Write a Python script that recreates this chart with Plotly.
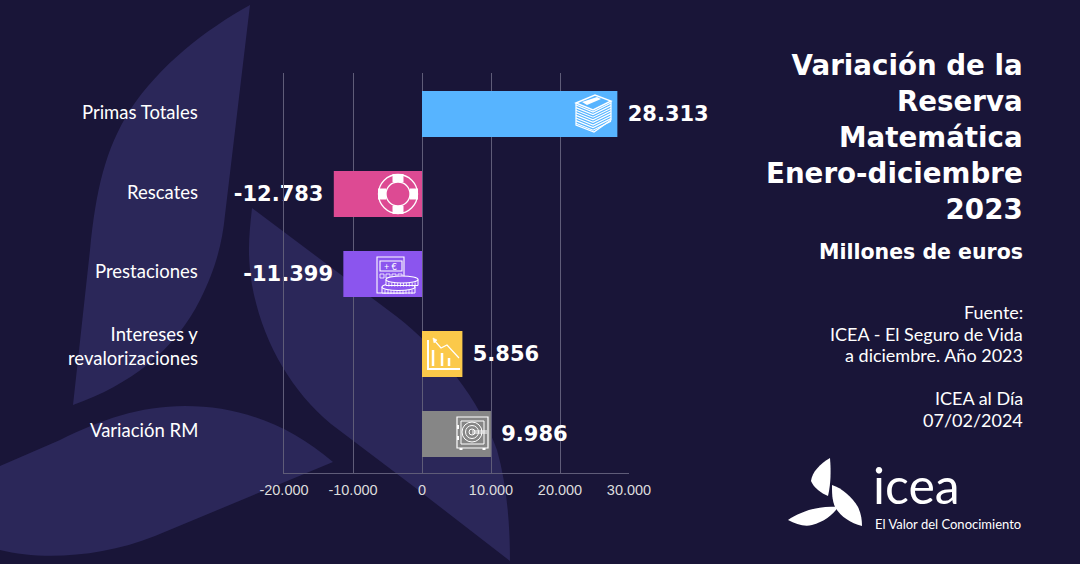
#!/usr/bin/env python3
import re
import plotly.graph_objects as go

categories = ['Primas Totales', 'Rescates', 'Prestaciones', 'Intereses y<br>revalorizaciones', 'Variación RM']
values = [28313, -12783, -11399, 5856, 9986]
value_labels = ['28.313', '-12.783', '-11.399', '5.856', '9.986']
bar_colors = ['#57b4ff', '#dd4a93', '#8b55ee', '#fbc94a', '#868686']
tick_vals = [-20000, -10000, 0, 10000, 20000, 30000]
tick_labels = ['-20.000', '-10.000', '0', '10.000', '20.000', '30.000']

title_lines = ['Variación de la', 'Reserva', 'Matemática', 'Enero-diciembre', '2023']
subtitle = 'Millones de euros'
source_lines = ['Fuente:', 'ICEA - El Seguro de Vida', 'a diciembre. Año 2023', '', 'ICEA al Día', '07/02/2024']

BG = '#191538'
LEAF = '#2b2759'
BOLD = 'DejaVu Sans'

# plot area in page pixels
L, R, T, B = 284, 629, 73, 473
W, H = 1080, 564


def px(x, y):
	return (x - L) / (R - L), (B - y) / (B - T)


def to_paper(path):
	# svg path written in page pixels -> paper coordinates
	def conv(m):
		x, y = px(float(m.group(1)), float(m.group(2)))
		return '%.5f,%.5f' % (x, y)
	return re.sub(r'(-?[\d.]+),(-?[\d.]+)', conv, path)


shapes = []


def add_path(path, fill=None, line='white', width=1.0, layer='above'):
	shapes.append(dict(type='path', path=to_paper(path), xref='paper', yref='paper', layer=layer,
		fillcolor=fill if fill else 'rgba(0,0,0,0)',
		line=dict(color=line if line else 'rgba(0,0,0,0)', width=width)))


def add_circle(cx, cy, rx, ry=None, fill=None, line='white', width=1.0):
	ry = ry if ry else rx
	x0, y0 = px(cx - rx, cy + ry)
	x1, y1 = px(cx + rx, cy - ry)
	shapes.append(dict(type='circle', xref='paper', yref='paper', x0=x0, y0=y0, x1=x1, y1=y1, layer='above',
		fillcolor=fill if fill else 'rgba(0,0,0,0)', line=dict(color=line, width=width)))


# background leaves
add_path('M250,5 C205,30 160,65 130,110 C105,150 96,190 90,250 L73,405 C130,385 175,350 200,300 C215,270 222,245 225,215 Z',
	fill=LEAF, line=None, layer='below')
add_path('M252,208 L396,316 C440,350 480,400 497,450 C507,485 510,525 510,561 L413,486 L331,424 C290,390 262,340 252,285 C247,255 249,235 252,208 Z',
	fill=LEAF, line=None, layer='below')
add_path('M333,462 C290,425 240,406 185,406 C140,406 100,420 60,440 L0,466 L0,550 C40,560 100,558 155,536 Z',
	fill=LEAF, line=None, layer='below')

# banknotes icon
add_path('M576,103 L595,95 L611,101 L593,110 Z', width=1.4)
for i in range(8):
	d = i * 2.6
	add_path('M576,%.1f L593,%.1f L611,%.1f' % (105 + d, 112 + d, 103 + d), width=1.2)
add_path('M576,103 L576,125 L594,132 L611,120 L611,101', width=1.2)
add_path('M582,102 L597,97 L601,99 L587,105 Z', fill='white', line=None)

# lifebuoy icon
add_circle(398, 194, 19.5, width=1.3)
add_circle(398, 194, 12, width=1.3)
for p in ['M398,182 L398,174', 'M398,206 L398,214', 'M386,194 L378,194', 'M410,194 L418,194']:
	add_path(p, width=11)

# calculator icon
add_path('M377,257 L404,257 L404,293 L377,293 Z', width=1.1)
add_path('M380,261 L402,261 L402,271 L380,271 Z', width=1.1)
for bx in [380, 386, 392, 398]:
	add_path('M%d,274 L%d,274 L%d,278 L%d,278 Z' % (bx, bx + 4, bx + 4, bx), width=0.8)
for cx, cy, rx in [(398.5, 285, 16.5), (402, 277.5, 16)]:
	add_path('M%.1f,%.1f L%.1f,%.1f L%.1f,%.1f L%.1f,%.1f Z' % (cx - rx, cy + 2, cx - rx, cy + 8, cx + rx, cy + 8, cx + rx, cy + 2),
		fill='#8b55ee', width=1)
	for i in range(1, 11):
		rx_x = cx - rx + i * 2 * rx / 11
		add_path('M%.1f,%.1f L%.1f,%.1f' % (rx_x, cy + 5, rx_x, cy + 9), width=0.8)
	add_circle(cx, cy + 2, rx, 3.5, fill='#8b55ee', width=1.1)

# chart icon
add_path('M428,340 L428,369 L460,369', width=2)
add_path('M433,350 L433,366', width=2.5)
add_path('M442,353 L442,366', width=2.5)
add_path('M449,358 L449,366', width=2.5)
add_path('M434,340 L441,348 L447,345 L459,358', width=1.2)
add_path('M433,338 L437,340 L434,343 Z', fill='white', width=0.6)

# safe icon
add_path('M457,417 L488,417 L488,448 L457,448 Z', width=1.2)
add_path('M461,421 L484,421 L484,444 L461,444 Z', width=1)
add_path('M461,450 L461,448 M484,450 L484,448', width=3)
add_circle(472, 432, 10, width=1)
add_circle(472, 432, 6.5, width=1)
add_circle(472, 432, 3, width=1)
add_path('M472,431 L487,431 M472,433 L487,433', width=1)
add_path('M458,425 L458,429 M458,436 L458,440', width=2)

# logo
add_path('M830,458 C820,464 812,472 811,481 C814,488 821,493 828,496 C831,483 831,470 830,458 Z', fill='white', line=None)
add_path('M832,485 C842,488 852,497 858,507 C861,513 862,520 862,526 C850,523 840,516 835,507 C832,500 832,493 832,485 Z', fill='white', line=None)
add_path('M788,520 C800,512 818,505 838,507 C834,514 824,522 812,525 C804,527 796,524 788,520 Z', fill='white', line=None)

annotations = []


def add_text(x, y, text, size, family='Lato', weight=None, anchor='right', color='white'):
	ax, ay = px(x, y)
	annotations.append(dict(x=ax, y=ay, xref='paper', yref='paper', text=text, showarrow=False,
		xanchor=anchor, yanchor='middle', align=anchor, borderpad=0,
		font=dict(family=family, size=size, color=color, weight=weight)))


add_text(1024, 137, '<br>'.join(title_lines), 27.7, family=BOLD, weight=700)
add_text(1024, 252, subtitle, 20.5, family=BOLD, weight=700)
for line, y in zip(source_lines, [312, 334, 355, 377, 398, 420]):
	if line:
		add_text(1024, y, line, 18)
add_text(872, 485, 'icea', 50, anchor='left')
add_text(874, 524, 'El Valor del Conocimiento', 13, anchor='left')
add_text(391, 266, '+ €', 9, anchor='center')

# category labels sit a little above the band centre
label_shift = [1, 1, 2, 7.5, 3]
for cat, shift in zip(categories, label_shift):
	annotations.append(dict(x=(199 - L) / (R - L), y=cat, xref='paper', yref='y', yshift=shift, text=cat,
		showarrow=False, xanchor='right', align='right', borderpad=0,
		font=dict(family='Lato', size=18.5, color='white')))

# nbsp widens the gap between bar and label
bar_text = [t + '\u00a0' if v < 0 else '\u00a0' + t for t, v in zip(value_labels, values)]

fig = go.Figure()
fig.add_trace(go.Bar(x=values, y=categories, orientation='h', width=0.575, offset=-0.2755,
	marker=dict(color=bar_colors, line=dict(width=0)),
	text=bar_text, textposition='outside', cliponaxis=False, constraintext='none',
	textfont=dict(family=BOLD, size=21, color='white', weight=700)))

fig.update_layout(
	width=W, height=H,
	margin=dict(l=L, r=W - R, t=T, b=H - B, pad=0),
	paper_bgcolor=BG, plot_bgcolor='rgba(0,0,0,0)',
	showlegend=False,
	shapes=shapes, annotations=annotations,
	xaxis=dict(range=[-20000, 30000], tickvals=tick_vals, ticktext=tick_labels,
		showgrid=True, gridcolor='#5f5c78', gridwidth=1, zeroline=True, zerolinecolor='#5f5c78', zerolinewidth=1,
		showline=True, linecolor='#5f5c78', linewidth=1,
		ticks='outside', ticklen=4, tickcolor='rgba(0,0,0,0)',
		tickfont=dict(family='Liberation Sans', size=14.5, color='#dddddd')),
	yaxis=dict(categoryorder='array', categoryarray=categories, autorange='reversed',
		showgrid=False, zeroline=False, showline=True, linecolor='#5f5c78', linewidth=1,
		ticks='', showticklabels=False),
)

# page has a default body margin, drop it so the figure fills the window
fig.write_html('out.html', config=dict(displayModeBar=False),
	post_script="document.body.style.margin='0';document.body.style.overflow='hidden';")
